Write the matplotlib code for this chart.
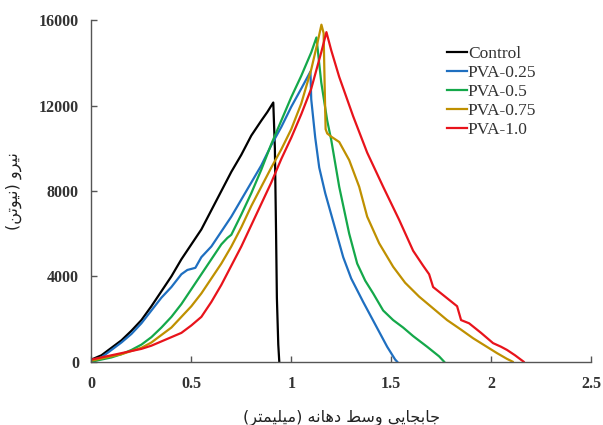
import matplotlib
matplotlib.use("Agg")
import matplotlib.pyplot as plt

# ---------------- data ----------------
control_x = [0, 0.05, 0.1, 0.15, 0.2, 0.25, 0.3, 0.35, 0.4, 0.45, 0.5, 0.55, 0.6, 0.65, 0.7, 0.75, 0.8, 0.85, 0.88, 0.91, 0.918, 0.924, 0.928, 0.935, 0.94]
control_y = [100, 300, 650, 1000, 1450, 1950, 2600, 3300, 4000, 4800, 5500, 6200, 7100, 8000, 8900, 9700, 10600, 11300, 11700, 12150, 10000, 6000, 3000, 800, 0]

pva025_x = [0, 0.05, 0.1, 0.15, 0.2, 0.25, 0.3, 0.35, 0.4, 0.45, 0.48, 0.52, 0.55, 0.6, 0.65, 0.7, 0.75, 0.8, 0.85, 0.9, 0.95, 1.0, 1.05, 1.096, 1.1, 1.12, 1.14, 1.17, 1.2, 1.23, 1.26, 1.3, 1.36, 1.4, 1.44, 1.48, 1.52, 1.53]
pva025_y = [50, 200, 550, 900, 1300, 1800, 2400, 3000, 3500, 4100, 4300, 4400, 4900, 5400, 6100, 6800, 7600, 8400, 9200, 10150, 11000, 11950, 12800, 13600, 12300, 10500, 9100, 7900, 6900, 5900, 4900, 3900, 2800, 2100, 1400, 700, 100, 0]

pva05_x = [0, 0.05, 0.1, 0.15, 0.2, 0.25, 0.3, 0.35, 0.4, 0.45, 0.5, 0.55, 0.6, 0.65, 0.68, 0.7, 0.75, 0.8, 0.85, 0.9, 0.95, 1.0, 1.05, 1.1, 1.126, 1.15, 1.18, 1.2, 1.24, 1.29, 1.33, 1.37, 1.41, 1.46, 1.51, 1.56, 1.61, 1.68, 1.74, 1.765]
pva05_y = [0, 100, 200, 350, 550, 800, 1150, 1600, 2100, 2700, 3400, 4100, 4800, 5500, 5800, 5950, 6900, 7900, 9000, 10200, 11300, 12400, 13400, 14500, 15200, 13100, 11300, 10400, 8200, 6000, 4600, 3800, 3200, 2400, 1950, 1600, 1200, 700, 250, 0]

pva075_x = [0, 0.05, 0.1, 0.15, 0.2, 0.25, 0.3, 0.35, 0.4, 0.45, 0.5, 0.55, 0.6, 0.65, 0.7, 0.75, 0.8, 0.85, 0.9, 0.95, 1.0, 1.05, 1.1, 1.13, 1.151, 1.162, 1.167, 1.172, 1.18, 1.2, 1.24, 1.29, 1.34, 1.38, 1.44, 1.51, 1.57, 1.64, 1.71, 1.78, 1.85, 1.91, 1.97, 2.03, 2.08, 2.108]
pva075_y = [50, 150, 250, 350, 500, 650, 900, 1250, 1600, 2100, 2600, 3200, 3900, 4600, 5400, 6300, 7300, 8200, 9100, 9950, 10900, 12100, 13700, 14900, 15800, 15400, 13000, 10900, 10700, 10550, 10300, 9450, 8200, 6800, 5550, 4450, 3700, 3050, 2500, 1950, 1500, 1100, 750, 400, 130, 0]

pva10_x = [0, 0.05, 0.1, 0.15, 0.2, 0.25, 0.3, 0.35, 0.4, 0.45, 0.5, 0.55, 0.6, 0.65, 0.7, 0.75, 0.8, 0.85, 0.9, 0.95, 1.0, 1.05, 1.1, 1.15, 1.176, 1.2, 1.24, 1.31, 1.38, 1.46, 1.54, 1.61, 1.66, 1.69, 1.71, 1.77, 1.83, 1.85, 1.89, 1.95, 2.01, 2.05, 2.08, 2.12, 2.163]
pva10_y = [100, 200, 300, 400, 500, 600, 750, 950, 1150, 1350, 1700, 2100, 2800, 3600, 4500, 5400, 6400, 7400, 8400, 9500, 10500, 11600, 12800, 14500, 15450, 14600, 13350, 11500, 9800, 8200, 6650, 5200, 4500, 4100, 3500, 3050, 2600, 1950, 1800, 1350, 870, 700, 550, 300, 0]

series_names = ["Control", "PVA-0.25", "PVA-0.5", "PVA-0.75", "PVA-1.0"]
series_colors = ["#000000", "#1F6FC0", "#14A84A", "#BF9000", "#E8131B"]

x_ticks = [0, 0.5, 1, 1.5, 2, 2.5]
x_tick_labels = ["0", "0.5", "1", "1.5", "2", "2.5"]
y_ticks = [0, 4000, 8000, 12000, 16000]
y_tick_labels = ["0", "4000", "8000", "12000", "16000"]

x_label = "جابجایی وسط دهانه (میلیمتر)"
y_label = "نیرو (نیوتن)"

# ------------- simple Persian shaping (presentation forms + RTL) -------------
FORMS = {  # isolated, final, initial, medial
    '\u0627': ('\uFE8D', '\uFE8E', None, None),
    '\u0628': ('\uFE8F', '\uFE90', '\uFE91', '\uFE92'),
    '\u062A': ('\uFE95', '\uFE96', '\uFE97', '\uFE98'),
    '\u062C': ('\uFE9D', '\uFE9E', '\uFE9F', '\uFEA0'),
    '\u062F': ('\uFEA9', '\uFEAA', None, None),
    '\u0631': ('\uFEAD', '\uFEAE', None, None),
    '\u0633': ('\uFEB1', '\uFEB2', '\uFEB3', '\uFEB4'),
    '\u0637': ('\uFEC1', '\uFEC2', '\uFEC3', '\uFEC4'),
    '\u0644': ('\uFEDD', '\uFEDE', '\uFEDF', '\uFEE0'),
    '\u0645': ('\uFEE1', '\uFEE2', '\uFEE3', '\uFEE4'),
    '\u0646': ('\uFEE5', '\uFEE6', '\uFEE7', '\uFEE8'),
    '\u0647': ('\uFEE9', '\uFEEA', '\uFEEB', '\uFEEC'),
    '\u0648': ('\uFEED', '\uFEEE', None, None),
    '\u06CC': ('\uFBFC', '\uFBFD', '\uFBFE', '\uFBFF'),
}
MIRROR = {'(': ')', ')': '('}


def shape_rtl(text):
    out = []
    n = len(text)
    for i, ch in enumerate(text):
        if ch not in FORMS:
            out.append(ch)
            continue
        f = FORMS[ch]
        prev = text[i - 1] if i > 0 else None
        nxt = text[i + 1] if i + 1 < n else None
        join_prev = prev in FORMS and FORMS[prev][2] is not None
        join_next = f[2] is not None and nxt in FORMS
        if join_prev and join_next:
            out.append(f[3])
        elif join_prev:
            out.append(f[1])
        elif join_next:
            out.append(f[2])
        else:
            out.append(f[0])
    return ''.join(MIRROR.get(c, c) for c in reversed(out))


# ---------------- figure ----------------
serif = ["Liberation Serif", "DejaVu Serif"]
fig = plt.figure(figsize=(6.03, 4.25), dpi=100)
ax = fig.add_axes([0.1517, 0.149, 0.8283, 0.803])

xs = [control_x, pva025_x, pva05_x, pva075_x, pva10_x]
ys = [control_y, pva025_y, pva05_y, pva075_y, pva10_y]
for x, y, name, c in zip(xs, ys, series_names, series_colors):
    ax.plot(x, y, color=c, lw=1.6, label=name, solid_joinstyle='round')

ax.set_xlim(0, 2.5)
ax.set_ylim(0, 16000)
ax.set_xticks(x_ticks)
ax.set_xticklabels(x_tick_labels)
ax.set_yticks(y_ticks)
ax.set_yticklabels(y_tick_labels)
for lab in ax.get_xticklabels() + ax.get_yticklabels():
    lab.set_fontfamily(serif)
    lab.set_fontweight("bold")
    lab.set_fontsize(11.5)
    lab.set_color("#333333")

for s in ("top", "right"):
    ax.spines[s].set_visible(False)
for s in ("left", "bottom"):
    ax.spines[s].set_color("#555555")
    ax.spines[s].set_linewidth(1.0)
ax.tick_params(direction="in", length=4, width=1, color="#555555")
ax.tick_params(axis="x", pad=10)
ax.tick_params(axis="y", pad=9)

ax.set_xlabel(shape_rtl(x_label), fontfamily=["DejaVu Sans"], fontsize=11.5,
              labelpad=13, color="#222222")
ax.set_ylabel(shape_rtl(y_label), fontfamily=["DejaVu Sans"], fontsize=11.5,
              labelpad=12, color="#222222")

leg = fig.legend(loc="upper left", bbox_to_anchor=(447 / 603, 1 - 46 / 425),
                 frameon=False, prop={"family": serif, "size": 12.5},
                 handlelength=1.15, handletextpad=0.05, labelspacing=0.16,
                 borderpad=0, borderaxespad=0)
for t in leg.get_texts():
    t.set_color("#333333")

fig.savefig("out.png", dpi=100)
